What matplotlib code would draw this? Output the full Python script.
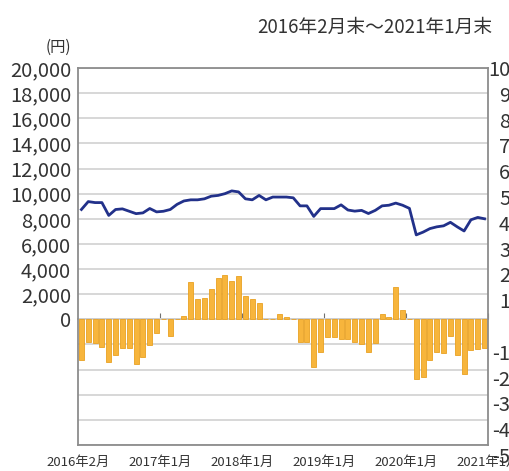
import matplotlib
matplotlib.use("Agg")
import matplotlib.pyplot as plt
import numpy as np

plt.rcParams['font.family'] = ['Noto Sans CJK JP', 'DejaVu Sans']

# Monthly data, 2016-02 .. 2021-01 (60 months)
price = [8740, 9370, 9290, 9290, 8270, 8740, 8790, 8600, 8410, 8470,
         8820, 8550, 8600, 8740, 9150, 9420, 9510, 9510, 9590, 9800,
         9860, 10000, 10220, 10140, 9590, 9510, 9860, 9510, 9730, 9730,
         9730, 9670, 9030, 9030, 8190, 8810, 8810, 8810, 9110, 8700,
         8610, 8670, 8420, 8670, 9030, 9080, 9250, 9080, 8830, 6720,
         6940, 7220, 7360, 7440, 7720, 7360, 7030, 7920, 8110, 8000]

bars = [-3200, -1800, -1900, -2240, -3400, -2860, -2320, -2320, -3580, -3000,
        -2060, -1120, 0, -1300, 0, 280, 3000, 1600, 1660, 2400,
        3280, 3560, 3020, 3480, 1880, 1600, 1280, 0, 0, 400,
        200, 0, -1800, -1800, -3800, -2600, -1400, -1400, -1560, -1560,
        -1800, -1960, -2560, -1900, 440, 180, 2580, 760, 0, -4720,
        -4600, -3200, -2600, -2640, -1300, -2800, -4320, -2460, -2360, -2280]

xlabels = ['2016年2月', '2017年1月', '2018年1月', '2019年1月', '2020年1月', '2021年1月']
xlabel_pos = [-0.5, 11.5, 23.5, 35.5, 47.5, 59.5]

left_ticks = list(range(-10000, 20001, 2000))
right_ticks = list(range(-50, 101, 10))

period_text = '2016年2月末～2021年1月末'
unit_text = '(円)'

W, H = 510, 471
fig = plt.figure(figsize=(W / 100, H / 100), dpi=100)
fig.patch.set_facecolor('white')

l, r, t, b = 78, 488, 68, 445

# right-hand scale labels (as printed, partly cut off by the image edge)
axr = fig.add_axes([l / W, 1 - 455 / H, (r - l) / W, (455 - t) / H])
axr.set_ylim(-50, 100)
axr.set_xticks([])
for s in axr.spines.values():
    s.set_visible(False)
axr.patch.set_visible(False)
axr.yaxis.tick_right()
axr.set_yticks(right_ticks)
axr.set_yticklabels(['' if v == 0 else str(v) for v in right_ticks])
axr.tick_params(axis='y', labelsize=14.5, length=0, pad=24, labelcolor='#333333')
for lab in axr.get_yticklabels():
    lab.set_horizontalalignment('right')

ax = fig.add_axes([l / W, 1 - b / H, (r - l) / W, (b - t) / H])
ax.patch.set_visible(False)

x = np.arange(len(price))

ax.set_ylim(-10000, 20000)
ax.set_yticks(left_ticks)
ax.set_yticklabels([f'{v:,}' if v >= 0 else '' for v in left_ticks])
ax.grid(True, axis='y', color='#d4d4d4', linewidth=1.3)
ax.set_axisbelow(True)

ax.bar(x, bars, width=0.72, color='#F7B53C', edgecolor='#E9A123',
       linewidth=0.6, zorder=2)
ax.plot(x, price, color='#22318A', linewidth=2.0, solid_joinstyle='round', zorder=3)

ax.set_xlim(-0.5, len(price) - 0.5)
ax.set_xticks(xlabel_pos)
ax.set_xticklabels(xlabels)

for s in ax.spines.values():
    s.set_color('#8c8c8c')
    s.set_linewidth(1.3)

ax.tick_params(axis='y', labelsize=14.5, length=0, pad=5, labelcolor='#333333')
ax.tick_params(axis='x', labelsize=9.5, length=0, pad=8, labelcolor='#333333')

# category axis crossing at zero
sec = ax.secondary_xaxis(1 / 3)
sec.set_xticks(xlabel_pos[1:])
sec.set_xticklabels([''] * len(xlabel_pos[1:]))
sec.tick_params(direction='in', length=4, color='#707070')
sec.spines['bottom'].set_color('#8c8c8c')
sec.spines['bottom'].set_linewidth(1.2)

fig.text(375 / W, 1 - 27 / H, period_text, fontsize=13.5, ha='center',
         va='center', color='#333333')
fig.text(58 / W, 1 - 47 / H, unit_text, fontsize=11, ha='center',
         va='center', color='#333333')

fig.savefig('out.png', dpi=100)
